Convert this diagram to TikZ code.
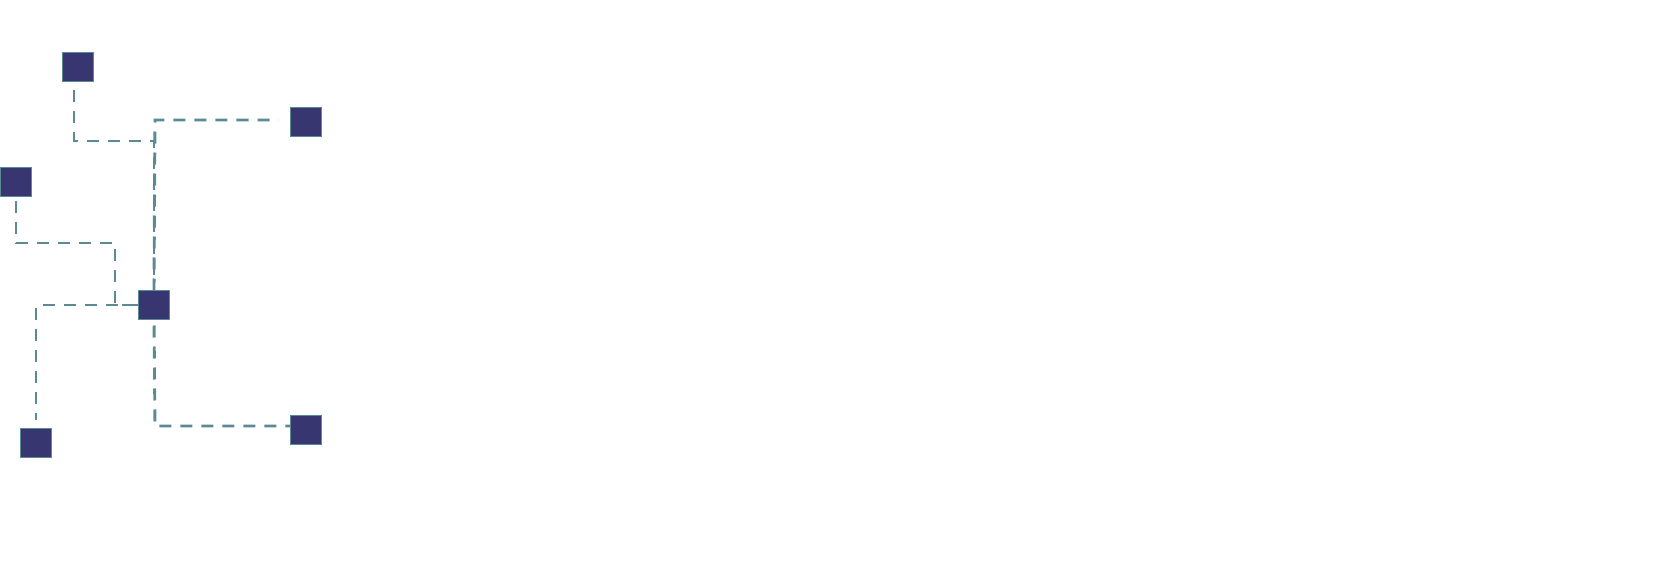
\documentclass[tikz,border=0pt]{standalone}
\definecolor{boxfill}{HTML}{383670}
\definecolor{linkcol}{HTML}{5B8A94}
\begin{document}
\begin{tikzpicture}[x=1pt,y=-1pt,
  sq/.style={draw=linkcol,line width=1pt,fill=boxfill,minimum width=31pt,minimum height=29pt,inner sep=0pt,outer sep=0pt},
  link/.style={draw=linkcol,line width=2.9pt,dash pattern=on 12pt off 9pt}]
\useasboundingbox (0,0) rectangle (1665,564);
\node[sq] (A) at (77.5,67) {};
\node[sq] (B) at (306,122.5) {};
\node[sq] (C) at (16,182.5) {};
\node[sq] (D) at (154,305) {};
\node[sq] (E) at (36,442.5) {};
\node[sq] (F) at (306,430) {};
\coordinate (a1) at (74,141);
\coordinate (c1) at (115,243);
\coordinate (b1) at (155,120);
\coordinate (f1) at (155,426);
\draw[link,shorten <=9pt] (A.south -| a1) -- (a1) -| (D.north);
\draw[link,shorten >=12pt] (D.north) -- (b1) -- (b1 -| B.west);
\draw[link,shorten <=4pt] (C.south) |- (c1) |- (D.west);
\draw[link,shorten >=8pt] (D.west) -| (E.north);
\draw[link,shorten <=6pt] (D.south) -- (f1) -- (f1 -| F.west);
\end{tikzpicture}
\end{document}
